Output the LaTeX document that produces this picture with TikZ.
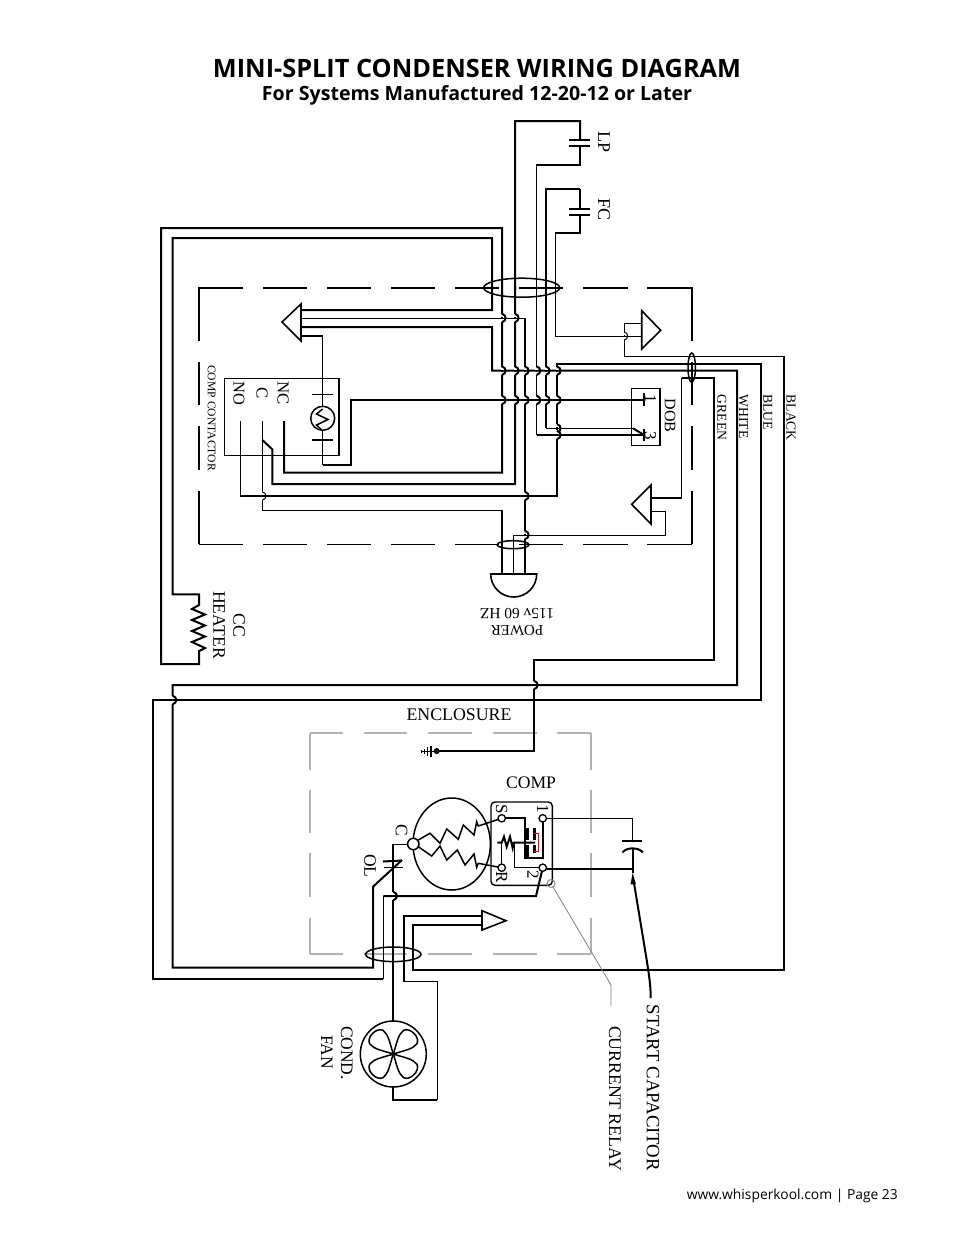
\documentclass[tikz,border=0pt]{standalone}
\usepackage{fontspec}
\setmainfont{Liberation Serif}
\newfontfamily\headfont{Open Sans}
\newcommand{\fsz}[1]{\fontsize{#1pt}{#1pt}\selectfont}
\newcommand{\jmpv}[3][2pt]{%
  \draw[white,line width=3pt] (#2,#3-4.2) -- (#2,#3-1.2) (#2,#3+1.2) -- (#2,#3+4.2);
  \draw[line width=#1] (#2,#3-4.2) .. controls (#2+4.8,#3-3) and (#2+4.8,#3+3) .. (#2,#3+4.2);}
\tikzset{
  wt/.style={line width=2pt,line join=miter},
  wn/.style={line width=1pt,line join=miter},
  wm/.style={line width=1.5pt,line join=miter},
  bdash/.style={line width=1.7pt},
  gdash/.style={line width=1.5pt,draw=black!30},
  lbl/.style={inner sep=0pt,font=\fsz{#1}},
  rlbl/.style={inner sep=0pt,rotate=-90,font=\fsz{#1}},
  term/.style={circle,draw,line width=1.3pt,fill=white,inner sep=0pt,minimum size=7.4pt},
}
\begin{document}
\begin{tikzpicture}[x=1pt,y=-1pt]
\useasboundingbox (0,0) rectangle (954,1235);
\fill[white] (0,0) rectangle (954,1235);
% ---------- titles ----------
\node[inner sep=0pt] (title) at (477,68) {\resizebox{528pt}{!}{\headfont\bfseries\fsz{27}MINI-SPLIT CONDENSER WIRING DIAGRAM}};
\node[inner sep=0pt] (subtitle) at (477,95) {\resizebox{430pt}{!}{\headfont\bfseries\fsz{20}For Systems Manufactured 12-20-12 or Later}};
\node[inner sep=0pt,anchor=east] (footer) at (898,1196) {\resizebox{211pt}{!}{\headfont\fsz{13.2}www.whisperkool.com | Page 23}};
% ---------- named connection points ----------
\coordinate (dob1) at (644,400);
\coordinate (dob3) at (644,435);
\coordinate (noT) at (240,421);
\coordinate (cT) at (262.3,421);
\coordinate (ncT) at (284,421);
\coordinate (pwrA) at (502,574);
\coordinate (pwrB) at (513.5,574);
\coordinate (pwrC) at (525,574);
% ---------- dashed control box ----------
\foreach \a/\b in {263/307,327/371,391/435,455/499,519/563,583/628}
  \draw[bdash] (\a,288) -- (\b,288);
\draw[bdash] (647,288) -- (692,288) -- (692,341);
\draw[bdash] (243,288) -- (199,288) -- (199,341);
\foreach \a/\b in {362/405,426/470}{\draw[bdash] (199,\a) -- (199,\b);\draw[bdash] (692,\a) -- (692,\b);}
\draw[bdash] (692,491) -- (692,544);
\draw[bdash] (199,491) -- (199,544);
\foreach \a/\b in {199/243,263/307,327/371,391/435,455/499,519/563,583/628,647/692}
  \draw[wn] (\a,544) -- (\b,544);
% ---------- gray enclosure ----------
\foreach \a/\b in {310/343,364/407,428/472,493/537,557/591}
  {\draw[gdash] (\a,733) -- (\b,733);\draw[gdash] (\a,954) -- (\b,954);}
\foreach \a/\b in {733/770,790/833,853/897,918/954}
  {\draw[gdash] (310,\a) -- (310,\b);\draw[gdash] (591,\a) -- (591,\b);}
% ---------- wires ----------
\draw[wt] (ncT) -- (284,472.7) -- (502,472.7) -- (502,228) -- (161,228) -- (161,664) -- (199,664) -- (199,651)
  -- (205,648) -- (192,642) -- (205,636.5) -- (192,631) -- (205,625.5) -- (192,620) -- (205,614.5) -- (192,609) -- (199,605) -- (199,594.3)
  -- (172.7,594.3) -- (172.7,238) -- (492,238) -- (492,310) -- (301,310);
\draw[wt] (301,327) -- (492,327) -- (492,370.7) -- (737,370.7) -- (737,685) -- (172.7,685) -- (172.7,967.7) -- (373,967.7) -- (373,886.7) -- (402,860);
\draw[wn] (cT) -- (262.3,440);
\draw[wt] (262.3,440) -- (272.3,449.3) -- (272.3,484) -- (515,484) -- (515,121) -- (580,121) -- (580,140);
\draw[wn] (262.3,440) -- (262.3,510) -- (502,510);
\draw[wt] (502,510) -- (pwrA);
\draw[wn] (noT) -- (240,496);
\draw[wt] (240,496) -- (557,496) -- (557,364.3) -- (761,364.3) -- (761,700) -- (153,700) -- (153,979) -- (383.3,979);
\draw[wn] (383.3,979) -- (383.3,896);
\draw[wt] (383.3,896) -- (536,896) -- (542.7,868);
\draw[wn] (301,318) -- (525,318);
\draw[wt] (525,318) -- (pwrC);
\draw[wn] (pwrB) -- (513.5,535) -- (665,535) -- (665,511) -- (651,511);
\draw[wt] (651,498) -- (681.7,498);
\draw[wm] (681.7,498) -- (681.7,377.7);
\draw[wt] (681.7,377.7) -- (714,377.7) -- (714,660) -- (534,660) -- (534,751) -- (437,751);
\draw[wt] (301,336) -- (322.7,336);
\draw[wn] (322.7,336) -- (322.7,406.3);
\draw[wn] (322.7,430.3) -- (322.7,465);
\draw[wt] (322.7,465) -- (350.7,465) -- (350.7,400) -- (dob1);
% LP, FC
\draw[wm] (580,146) -- (580,165) -- (536.7,165) -- (536.7,435);
\draw[wt] (536.7,435) -- (dob3);
\draw[wt] (580,189) -- (546,189) -- (546,428.3);
\draw[wm] (546,428.3) -- (633,428.3);
\draw[wt] (633,428.3) -- (dob3);
\draw[wt] (580,189) -- (580,208.5);
\draw[wt] (580,214.5) -- (580,233) -- (555,233);
\draw[wn] (555,233) -- (555,336) -- (641.7,336);
\draw[wn] (641.7,323.3) -- (624,323.3) -- (624,356) -- (784,356);
\draw[wt] (784,356) -- (784,969.5) -- (413.3,969.5) -- (413.3,925) -- (482,925);
\draw[wt] (482,915.7) -- (404,915.7) -- (404,981.7);
\draw[wm] (404,981.7) -- (437.3,981.7) -- (437.3,1100);
\draw[wt] (437.3,1100) -- (393,1100) -- (393,1087);
\draw[wt] (393.3,844) -- (393.3,1021);
\draw[wn] (393.3,844) -- (408,844);
% ---------- jumps ----------
\foreach \x in {502,515,525,536.7,546,557}{\jmpv{\x}{370.7}\jmpv{\x}{400}}
\jmpv{502}{318}\jmpv{515}{318}
\jmpv{525}{496}\jmpv{525}{535}
\jmpv[1pt]{262.3}{496}\jmpv[1pt]{624}{336}
\jmpv{557}{428.3}\jmpv{557}{435}
\jmpv{534}{685}\jmpv{172.7}{700}\jmpv{393.3}{896}
% ---------- capacitors LP / FC ----------
\draw[wt] (569,140) -- (590,140) (569,146) -- (590,146);
\draw[wt] (569,208.5) -- (590,208.5) (569,214.5) -- (590,214.5);
% ---------- triangles ----------
\draw[line width=1.6pt,line join=miter] (301,304) -- (282,322) -- (301,341) -- cycle;
\draw[line width=1.6pt,line join=miter] (641.7,310.7) -- (660.7,330.3) -- (641.7,349) -- cycle;
\draw[line width=1.6pt,line join=miter] (651,485) -- (631.7,504.3) -- (651,524) -- cycle;
\draw[line width=1.6pt,line join=miter] (482,910.7) -- (506,920.7) -- (482,930) -- cycle;
% ---------- cable ellipses ----------
\draw[line width=1.5pt] (521.7,287.7) ellipse [x radius=38,y radius=9.5];
\draw[line width=1.5pt] (691.7,367.7) ellipse [x radius=3.7,y radius=14.7];
\draw[line width=1.5pt] (513,544.7) ellipse [x radius=16,y radius=4];
\draw[line width=1.5pt] (393.3,954.3) ellipse [x radius=27.7,y radius=7.3];
% ---------- contactor ----------
\draw[wm] (224.7,378.7) rectangle (339,455.3);
\draw[wn] (312,394) -- (333,394);
\draw[wt] (312,440) -- (333,440);
\node[circle,draw,line width=1.5pt,minimum size=24pt,inner sep=0pt] (coil) at (322.7,418.3) {};
\draw[line width=1.5pt] (322.7,409) -- (316.5,414) -- (328,419.5) -- (316.5,425) -- (322.7,431);
\node[rlbl=16.8] (nc) at (283,393) {NC};
\node[rlbl=16.8] (cl) at (262,393) {C};
\node[rlbl=16.4] (no) at (239,393) {NO};
\node[rlbl=11.6] (contl) at (211.7,418) {COMP CONTACTOR};
% ---------- DOB ----------
\draw[wm] (631.7,388.3) rectangle (660,445.7);
\draw[wt] (644,393) -- (644,405.7) (644,429) -- (644,440.7);
\node[rlbl=17] (d1) at (650.5,399) {1};
\node[rlbl=17] (d3) at (650.5,436) {3};
\node[rlbl=16] (dob) at (670,415.7) {DOB};
\node[rlbl=13.6] (green) at (721.7,417.5) {GREEN};
\node[rlbl=13.6] (whitel) at (743.5,416.7) {WHITE};
\node[rlbl=13.6] (blue) at (767.7,412) {BLUE};
\node[rlbl=13.6] (blk) at (791,417.7) {BLACK};
\node[rlbl=18] (lp) at (604,142) {LP};
\node[rlbl=18] (fc) at (604,209.7) {FC};
\node[rlbl=17.6] (cc) at (239,625) {CC};
\node[rlbl=17.6] (heater) at (219.3,625) {HEATER};
% ---------- power plug ----------
\draw[line width=1.6pt] (490.7,574) -- (536.7,574) arc[start angle=0,end angle=180,x radius=23,y radius=23] -- cycle;
\node[inner sep=0pt,rotate=180,font=\fsz{15.5}] (v115) at (517,613.5) {115v 60 HZ};
\node[inner sep=0pt,rotate=180,font=\fsz{15}] (pow) at (517,630.7) {POWER};
% ---------- enclosure, ground ----------
\node[lbl=17.8] (encl) at (459,715) {ENCLOSURE};
\node[lbl=17.6] (comp) at (531,783) {COMP};
\fill (436.7,751) circle[radius=3];
\draw[line width=1.5pt] (431,746) -- (431,757.3) (427.7,747) -- (427.7,756) (424.7,749) -- (424.7,754) (421.7,750) -- (421.7,753);
\draw[line width=1pt] (421,751) -- (437,751);
% ---------- compressor ----------
\draw[line width=1.5pt] (451.7,844) ellipse [x radius=38.7,y radius=46];
\draw[line width=1.4pt,rounded corners=4pt] (491,802) rectangle (552.3,885.3);
\draw[wm] (418.3,840) -- (430,833.3) -- (440,843.3) -- (446.7,829) -- (458.3,839.3) -- (463.3,825) -- (474,835) -- (476.7,821.7) -- (478.3,826) -- (501.7,818.3);
\draw[wm] (418.3,846.7) -- (431.7,856) -- (440,846) -- (446.7,860) -- (457.3,850) -- (465,865) -- (474,854) -- (476.7,867.3) -- (478.3,863.3) -- (501.7,867.7);
\draw[wt] (501.7,818.3) -- (525,818.3) -- (525,858.3) -- (542.7,858.3) -- (542.7,818.3);
\draw[line width=3.4pt] (527,828) -- (527,840) (527,845) -- (527,858);
\draw[line width=2.4pt] (534.3,828) -- (534.3,840) (534.3,845) -- (534.3,853);
\draw[red,line width=1.4pt] (534.3,833.3) -- (538.3,833.3) -- (538.3,851.7) -- (534.3,851.7);
\draw[wt] (497.3,842.7) -- (501.7,842.7) -- (504,836.7) -- (506.7,846.7) -- (510,836.7) -- (512.7,848) -- (513.7,842.7) -- (535,842.7);
\draw[wn] (501.7,842.7) -- (501.7,867.7);
\draw[wm] (514.3,842.7) -- (514.3,867.7) -- (542.7,867.7);
\draw[wm] (542.7,818.3) -- (632.7,818.3) -- (632.7,841);
\draw[wm] (542.7,869) -- (632.7,869);
\draw[wt] (632.7,848) -- (632.7,873);
\draw[wt] (621.7,841) -- (642.3,841);
\draw[wt] (622.5,852.5) .. controls (626,847) and (639,847) .. (642.9,852.5);
\node[term] (tS) at (501.7,818.3) {};
\node[term] (tR) at (501.7,867.7) {};
\node[term] (t1) at (542.7,818.3) {};
\node[term] (t2) at (542.7,867.7) {};
\node[circle,draw,line width=1.5pt,fill=white,minimum size=11.4pt,inner sep=0pt] (tC) at (413.3,844) {};
\draw[wt] (383,861.5) -- (402,860.5);
\draw[wn] (383.5,867) -- (403,867);
\draw[line width=1pt,draw=black!45] (551,883.5) circle[radius=4];
\draw[line width=.8pt,draw=black!50] (553,887) -- (611,985) -- (611,1006);
\fill (632.7,872.7) -- (630.5,884.5) -- (635.8,884) -- cycle;
\draw[wt] (633.5,880) -- (646.7,960) .. controls (649,975) and (650.7,985) .. (650.7,998);
\node[rlbl=17] (lS) at (501.7,809.3) {S};
\node[rlbl=17] (lR) at (501.7,876.7) {R};
\node[rlbl=17] (l1) at (542.7,808.5) {1};
\node[rlbl=17] (l2) at (533,875) {2};
\node[rlbl=17.5] (lC) at (401.7,830.7) {C};
\node[rlbl=17.5] (lO) at (370,865.7) {OL};
% ---------- fan ----------
\node[circle,draw,line width=1.5pt,minimum size=66pt,inner sep=0pt] (fan) at (393.3,1054) {};
\foreach \r in {45,135,225,315}
  \draw[line width=1.5pt,shift={(393.3,1054)},rotate=\r] (0,0) .. controls (10,-5) and (17,-10.5) .. (24,-9.5) .. controls (31,-7) and (31,7) .. (24,9.5) .. controls (17,10.5) and (10,5) .. (0,0);
\node[rlbl=17.5] (cond) at (346.7,1053) {COND.};
\node[rlbl=17.5] (fanl) at (327,1052) {FAN};
\node[rlbl=18.8] (start) at (653,1088) {START CAPACITOR};
\node[rlbl=17.8] (curr) at (615,1098.7) {CURRENT RELAY};
\end{tikzpicture}
\end{document}
